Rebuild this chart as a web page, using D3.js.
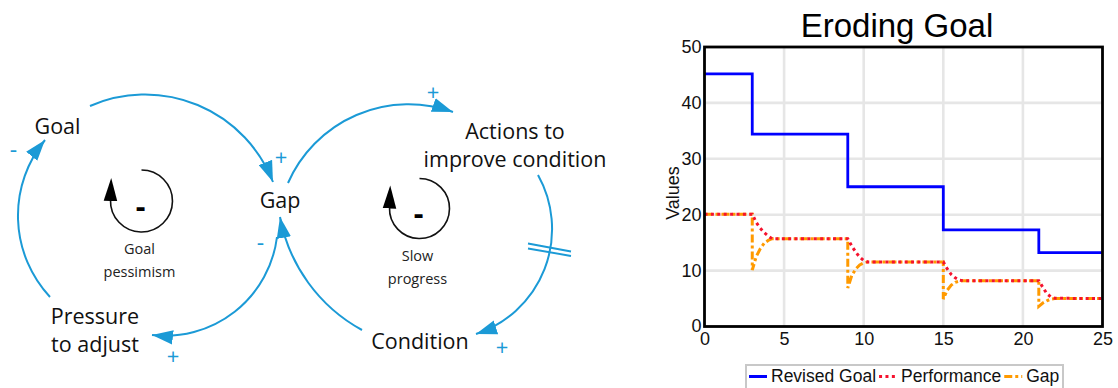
<!DOCTYPE html>
<html>
<head>
<meta charset="utf-8">
<script src="https://cdn.jsdelivr.net/npm/d3@7"></script>
<style>
  html, body { margin: 0; padding: 0; background: #fff; }
  svg { display: block; }
</style>
</head>
<body>
<svg id="root" width="1118" height="388"></svg>
<script>
// ---------------- Chart data ----------------
const chartTitle = "Eroding Goal";
const yAxisLabel = "Values";
const seriesNames = ["Revised Goal", "Performance", "Gap"];
const xTicks = [0, 5, 10, 15, 20, 25];
const yTicks = [0, 10, 20, 30, 40, 50];

const goalTime = [0, 3, 9, 15, 21, 25];
const revisedGoal = [45.2, 34.4, 25.0, 17.3, 13.2, 13.2];

const perfTime = [0, 3, 3.25, 3.5, 3.75, 4, 4.25, 9, 9.25, 9.5, 9.75, 10, 10.25,
                  15, 15.25, 15.5, 15.75, 16, 16.25, 21, 21.25, 21.5, 21.75, 22, 25];
const performance = [20.1, 20.1, 18.6, 17.6, 16.8, 16.2, 15.7, 15.7, 14.4, 13.3, 12.4, 11.8, 11.55,
                     11.55, 10.3, 9.3, 8.7, 8.3, 8.2, 8.2, 7.0, 5.9, 5.3, 5.05, 5.0];

const gapTime = [0, 3, 3, 3.25, 3.5, 3.75, 4, 4.25, 9, 9, 9.25, 9.5, 9.75, 10, 10.25,
                 15, 15, 15.25, 15.5, 15.75, 16, 16.25, 21, 21, 21.25, 21.5, 21.75, 22, 25];
const gap = [20.1, 20.1, 10.1, 12.5, 13.9, 14.9, 15.4, 15.7, 15.7, 6.9, 9.1, 10.3, 11.0, 11.4, 11.55,
             11.55, 4.9, 6.5, 7.4, 7.9, 8.1, 8.2, 8.2, 3.6, 4.2, 4.6, 4.9, 5.0, 5.0];

// ---------------- Causal loop diagram content ----------------
const nodeLabels = [
  { lines: ["Goal"], x: 57.5, y: 133.5 },
  { lines: ["Gap"], x: 280, y: 208 },
  { lines: ["Actions to", "improve condition"], x: 515, y: 138.5 },
  { lines: ["Condition"], x: 420, y: 348.5 },
  { lines: ["Pressure", "to adjust"], x: 95, y: 323.5 }
];
const links = [
  { pts: [[90, 106], [165, 96], [273, 182]], sign: "+", sx: 281, sy: 156 },
  { pts: [[288, 183], [350, 118], [453, 112]], sign: "+", sx: 433, sy: 91 },
  { pts: [[538, 175], [552, 233], [476, 334]], sign: "+", sx: 502, sy: 346 },
  { pts: [[362, 330], [293, 257], [280, 217]], sign: "-", sx: 260.5, sy: 241.5 },
  { pts: [[277, 237], [233, 313], [152, 335]], sign: "+", sx: 173, sy: 355 },
  { pts: [[50, 297], [18, 213], [45, 140]], sign: "-", sx: 13.5, sy: 149 }
];
const loops = [
  { cx: 141.5, cy: 201, r: 31, lines: ["Goal", "pessimism"] },
  { cx: 419.5, cy: 208.5, r: 30, lines: ["Slow", "progress"] }
];

// ---------------- Drawing ----------------
const svg = d3.select("#root");
const BLUE = "#1b9ad6";
const diagFont = "'Open Sans', 'Noto Sans', sans-serif";
const chartFont = "'Liberation Sans', Arial, sans-serif";

const defs = svg.append("defs");
defs.append("marker")
  .attr("id", "blueHead").attr("markerUnits", "userSpaceOnUse")
  .attr("viewBox", "-21 -7.5 22 15").attr("refX", 0).attr("refY", 0)
  .attr("markerWidth", 22).attr("markerHeight", 15).attr("orient", "auto")
  .append("path").attr("d", "M0,0 L-21,-7.2 L-21,7.2 Z").attr("fill", BLUE);
defs.append("marker")
  .attr("id", "blackHead").attr("markerUnits", "userSpaceOnUse")
  .attr("viewBox", "-1 -7.5 24 15").attr("refX", 0).attr("refY", 0)
  .attr("markerWidth", 24).attr("markerHeight", 15).attr("orient", "auto")
  .append("path").attr("d", "M-1,-6.8 L22,0 L-1,6.8 Z").attr("fill", "#000");

function arcThrough(p1, p2, p3) {
  const [x1, y1] = p1, [x2, y2] = p2, [x3, y3] = p3;
  const d = 2 * (x1 * (y2 - y3) + x2 * (y3 - y1) + x3 * (y1 - y2));
  const s1 = x1 * x1 + y1 * y1, s2 = x2 * x2 + y2 * y2, s3 = x3 * x3 + y3 * y3;
  const ux = (s1 * (y2 - y3) + s2 * (y3 - y1) + s3 * (y1 - y2)) / d;
  const uy = (s1 * (x3 - x2) + s2 * (x1 - x3) + s3 * (x2 - x1)) / d;
  const r = Math.hypot(x1 - ux, y1 - uy);
  const cross = (x2 - x1) * (y3 - y2) - (y2 - y1) * (x3 - x2);
  const sweep = cross > 0 ? 1 : 0;
  const a1 = Math.atan2(y1 - uy, x1 - ux), a3 = Math.atan2(y3 - uy, x3 - ux);
  const TAU = Math.PI * 2;
  let delta = sweep ? (a3 - a1) : (a1 - a3);
  delta = ((delta % TAU) + TAU) % TAU;
  const large = delta > Math.PI ? 1 : 0;
  return `M${x1},${y1} A${r},${r} 0 ${large} ${sweep} ${x3},${y3}`;
}

const diag = svg.append("g");
diag.selectAll("path.link").data(links).join("path")
  .attr("class", "link")
  .attr("d", d => arcThrough(...d.pts))
  .attr("fill", "none").attr("stroke", BLUE).attr("stroke-width", 2)
  .attr("marker-end", "url(#blueHead)");

diag.selectAll("text.sign").data(links).join("text")
  .attr("class", "sign")
  .attr("x", d => d.sx).attr("y", d => d.sy)
  .attr("text-anchor", "middle").attr("dominant-baseline", "central")
  .attr("font-family", diagFont).attr("font-size", d => d.sign === "+" ? 22 : 23)
  .attr("fill", BLUE).text(d => d.sign);

// delay mark on Actions -> Condition
diag.append("line").attr("x1", 528).attr("y1", 243.5).attr("x2", 571).attr("y2", 251.5)
  .attr("stroke", BLUE).attr("stroke-width", 1.8);
diag.append("line").attr("x1", 528).attr("y1", 248.5).attr("x2", 571).attr("y2", 256)
  .attr("stroke", BLUE).attr("stroke-width", 1.8);

nodeLabels.forEach(n => {
  const t = diag.append("text")
    .attr("x", n.x).attr("y", n.y).attr("text-anchor", "middle")
    .attr("font-family", diagFont).attr("font-size", 21.5).attr("fill", "#111");
  n.lines.forEach((ln, i) => t.append("tspan").attr("x", n.x).attr("dy", i === 0 ? 0 : 28.2).text(ln));
});

loops.forEach(L => {
  const start = [L.cx, L.cy - L.r];
  const end = [L.cx - L.r, L.cy - 1];
  diag.append("path")
    .attr("d", `M${start[0]},${start[1]} A${L.r},${L.r} 0 1 1 ${end[0]},${end[1]}`)
    .attr("fill", "none").attr("stroke", "#111").attr("stroke-width", 1.6)
    .attr("marker-end", "url(#blackHead)");
  diag.append("text").attr("x", L.cx - 1).attr("y", L.cy + 4)
    .attr("text-anchor", "middle").attr("dominant-baseline", "central")
    .attr("font-family", diagFont).attr("font-weight", "bold").attr("font-size", 30)
    .attr("fill", "#000").text("-");
  const t = diag.append("text").attr("x", L.cx - 2).attr("y", L.cy + 52.5)
    .attr("text-anchor", "middle").attr("font-family", diagFont)
    .attr("font-size", 14.5).attr("fill", "#222");
  L.lines.forEach((ln, i) => t.append("tspan").attr("x", L.cx - 2).attr("dy", i === 0 ? 0 : 23).text(ln));
});

// ---------------- Line chart ----------------
const x = d3.scaleLinear().domain([0, 25]).range([704.5, 1102.5]);
const y = d3.scaleLinear().domain([0, 50]).range([326.5, 47]);
const chart = svg.append("g");

// grid
chart.selectAll("line.gx").data(xTicks.slice(1, -1)).join("line")
  .attr("x1", d => x(d)).attr("x2", d => x(d)).attr("y1", y(50)).attr("y2", y(0))
  .attr("stroke", "#e6e6e6").attr("stroke-width", 2.6);
chart.selectAll("line.gy").data(yTicks.slice(1, -1)).join("line")
  .attr("y1", d => y(d)).attr("y2", d => y(d)).attr("x1", x(0)).attr("x2", x(25))
  .attr("stroke", "#e6e6e6").attr("stroke-width", 2.6);

// series
const goalPts = goalTime.map((t, i) => [t, revisedGoal[i]]);
const perfPts = perfTime.map((t, i) => [t, performance[i]]);
const gapPts = gapTime.map((t, i) => [t, gap[i]]);
const stepLine = d3.line().x(d => x(d[0])).y(d => y(d[1])).curve(d3.curveStepAfter);
const line = d3.line().x(d => x(d[0])).y(d => y(d[1]));

const seriesStyle = [
  { color: "#0000ff", dash: null, width: 2.8 },
  { color: "#f5122e", dash: "3,3.4", width: 3 },
  { color: "#ff9a00", dash: "8,3,3,3", width: 3 }
];
chart.append("path").attr("d", stepLine(goalPts)).attr("fill", "none")
  .attr("stroke", seriesStyle[0].color).attr("stroke-width", seriesStyle[0].width);
chart.append("path").attr("d", line(gapPts)).attr("fill", "none")
  .attr("stroke", seriesStyle[2].color).attr("stroke-width", seriesStyle[2].width)
  .attr("stroke-dasharray", seriesStyle[2].dash);
chart.append("path").attr("d", line(perfPts)).attr("fill", "none")
  .attr("stroke", seriesStyle[1].color).attr("stroke-width", seriesStyle[1].width)
  .attr("stroke-dasharray", seriesStyle[1].dash);

// frame
chart.append("rect").attr("x", x(0)).attr("y", y(50)).attr("width", x(25) - x(0)).attr("height", y(0) - y(50))
  .attr("fill", "none").attr("stroke", "#000").attr("stroke-width", 2.8);

// axes labels
const xAxis = d3.axisBottom(x).tickValues(xTicks).tickSize(0).tickPadding(0).tickFormat(d3.format("d"));
const gx = chart.append("g").attr("transform", `translate(0,${y(0) + 4.5})`).call(xAxis);
gx.select(".domain").remove();
gx.selectAll("text").attr("font-family", chartFont).attr("font-size", 18).attr("fill", "#111").attr("dy", "0.8em");

const yAxis = d3.axisLeft(y).tickValues(yTicks).tickSize(0).tickPadding(0).tickFormat(d3.format("d"));
const gy = chart.append("g").attr("transform", `translate(${x(0) - 3},0)`).call(yAxis);
gy.select(".domain").remove();
gy.selectAll("text").attr("font-family", chartFont).attr("font-size", 18).attr("fill", "#111").attr("dy", "0.3em");

chart.append("text").attr("x", 897).attr("y", 37).attr("text-anchor", "middle")
  .attr("font-family", chartFont).attr("font-size", 33).attr("fill", "#000").text(chartTitle);
chart.append("text").attr("transform", "translate(678.5,193) rotate(-90)").attr("text-anchor", "middle")
  .attr("font-family", chartFont).attr("font-size", 18).attr("fill", "#111").text(yAxisLabel);

// legend
const lg = chart.append("g");
lg.append("rect").attr("x", 746).attr("y", 365).attr("width", 317).attr("height", 30)
  .attr("fill", "#fff").attr("stroke", "#c8c8c8").attr("stroke-width", 2);
let cx = 749;
seriesNames.forEach((name, i) => {
  const st = seriesStyle[i];
  lg.append("line").attr("x1", cx).attr("x2", cx + 18).attr("y1", 376.5).attr("y2", 376.5)
    .attr("stroke", st.color).attr("stroke-width", 3).attr("stroke-dasharray", st.dash);
  const t = lg.append("text").attr("x", cx + 22).attr("y", 382)
    .attr("font-family", chartFont).attr("font-size", 17.5).attr("fill", "#111").text(name);
  cx = cx + 22 + t.node().getComputedTextLength() + 3;
});
</script>
</body>
</html>
